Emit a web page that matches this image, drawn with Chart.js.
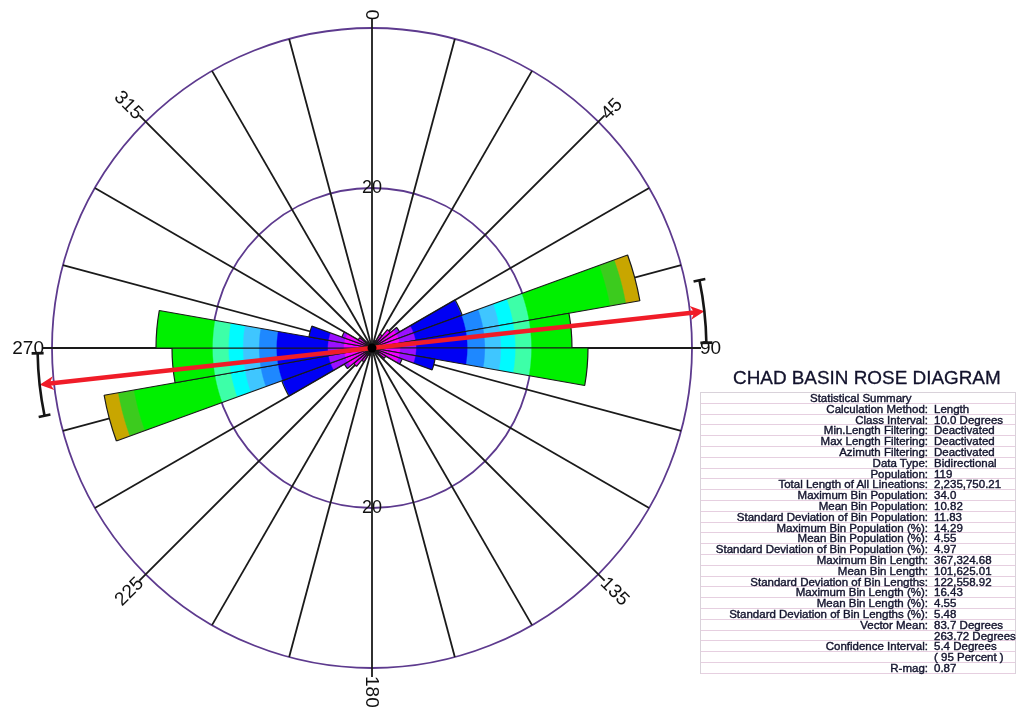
<!DOCTYPE html>
<html>
<head>
<meta charset="utf-8">
<title>Chad Basin Rose Diagram</title>
<script src="https://cdn.jsdelivr.net/npm/chart.js"></script>
<style>
  html, body { margin: 0; padding: 0; background: #ffffff; }
  body { width: 1018px; height: 710px; position: relative; overflow: hidden; font-family: "Liberation Sans", Arial, sans-serif; }
  #rose { position: absolute; left: 0; top: 0; }
  #title { position: absolute; left: 733px; top: 368px; font-size: 18.9px; line-height: 20px; color: #12122c; -webkit-text-stroke: 0.3px #12122c; white-space: nowrap; }
  #stats { position: absolute; left: 700px; top: 392px; width: 316px; box-sizing: border-box; border: 1px solid #d9d2da; border-bottom: none; }
  .row { position: relative; height: 10.8px; box-sizing: border-box; border-bottom: 1px solid #e6cfe0; font-size: 11.5px; line-height: 10.8px; color: #14142e; -webkit-text-stroke: 0.4px #14142e; white-space: nowrap; }
  .row .k { position: absolute; right: 87px; top: 0; text-align: right; }
  .row .v { position: absolute; left: 233px; top: 0; }
  .row .h { position: absolute; left: 109px; top: 0; width: 100px; text-align: center; }
</style>
</head>
<body>
<canvas id="rose" width="1018" height="710"></canvas>
<div id="title"></div>
<div id="stats"></div>
<script>
// 10-degree azimuth bins (bidirectional data, so each bin mirrors the one 180 degrees away)
const BIN_LABELS = ['0-10','10-20','20-30','30-40','40-50','50-60','60-70','70-80','80-90',
  '90-100','100-110','110-120','120-130','130-140','140-150','150-160','160-170','170-180',
  '180-190','190-200','200-210','210-220','220-230','230-240','240-250','250-260','260-270',
  '270-280','280-290','290-300','300-310','310-320','320-330','330-340','340-350','350-360'];
const BIN_COUNTS = [0, 0, 1, 2, 3, 4, 12, 34, 25, 27, 8, 4, 2, 1, 0, 0, 0, 0,
                    0, 0, 1, 2, 3, 4, 12, 34, 25, 27, 8, 4, 2, 1, 0, 0, 0, 0];

// radial rings and azimuth annotation
const RING_MAX = 40;
const RING_STEP = 20;
const RING_LABELS = ['20'];
const AXIS_ANGLES = [0, 45, 90, 135, 180, 225, 270, 315];
const AXIS_LABELS = ['0', '45', '90', '135', '180', '225', '270', '315'];
const SPOKE_STEP = 15;

// vector mean and its 95% confidence interval (degrees)
const VECTOR_MEAN = 83.7;
const CONFIDENCE = 5.4;

// colour ramp along the petals: [from value, colour]
const RAMP_BREAKS = [0, 3.6, 5.6, 12, 14.2, 16.2, 18, 20, 30.3, 32.3];
const RAMP_COLORS = ['#f200ff', '#9a10ff', '#0000f4', '#1e88ff', '#3fc6ff', '#00fbff', '#3dffa8', '#00f000', '#3ccb1e', '#c8a600'];

// statistical summary table
const STAT_HEADER = 'Statistical Summary';
const STAT_NAMES = ['Calculation Method:', 'Class Interval:', 'Min.Length Filtering:', 'Max Length Filtering:',
  'Azimuth Filtering:', 'Data Type:', 'Population:', 'Total Length of All Lineations:',
  'Maximum Bin Population:', 'Mean Bin Population:', 'Standard Deviation of Bin Population:',
  'Maximum Bin Population (%):', 'Mean Bin Population (%):', 'Standard Deviation of Bin Population (%):',
  'Maximum Bin Length:', 'Mean Bin Length:', 'Standard Deviation of Bin Lengths:',
  'Maximum Bin Length (%):', 'Mean Bin Length (%):', 'Standard Deviation of Bin Lengths (%):',
  'Vector Mean:', '', 'Confidence Interval:', '', 'R-mag:'];
const STAT_VALUES = ['Length', '10.0 Degrees', 'Deactivated', 'Deactivated', 'Deactivated', 'Bidirectional',
  '119', '2,235,750.21', '34.0', '10.82', '11.83', '14.29', '4.55', '4.97', '367,324.68', '101,625.01',
  '122,558.92', '16.43', '4.55', '5.48', '83.7 Degrees', '263.72 Degrees', '5.4 Degrees', '( 95 Percent )', '0.87'];
const TITLE = 'CHAD BASIN ROSE DIAGRAM';

// ---- summary panel ----
document.getElementById('title').textContent = TITLE;
const stats = document.getElementById('stats');
function addRow(html) { const d = document.createElement('div'); d.className = 'row'; d.innerHTML = html; stats.appendChild(d); return d; }
function esc(s) { return s.replace(/&/g, '&amp;').replace(/</g, '&lt;'); }
addRow('<span class="h">' + esc(STAT_HEADER) + '</span>');
STAT_NAMES.forEach((n, i) => addRow('<span class="k">' + esc(n) + '</span><span class="v">' + esc(STAT_VALUES[i]) + '</span>'));

// ---- rose diagram ----
const FONT = '"Liberation Sans", Arial, sans-serif';
function toCanvasAngle(deg) { return (deg - 90) * Math.PI / 180; }
function polar(cx, cy, r, deg) { const a = toCanvasAngle(deg); return [cx + r * Math.cos(a), cy + r * Math.sin(a)]; }

let gradCache = null;
function petalFill(context) {
  const chart = context.chart;
  const s = chart.scales.r;
  if (!s || !s.drawingArea) return RAMP_COLORS[0];
  const key = s.xCenter + ',' + s.yCenter + ',' + s.drawingArea;
  if (gradCache && gradCache.key === key) return gradCache.g;
  const R = s.getDistanceFromCenterForValue(RING_MAX);
  const g = chart.ctx.createRadialGradient(s.xCenter, s.yCenter, 0, s.xCenter, s.yCenter, R);
  RAMP_BREAKS.forEach((b, i) => {
    const from = b / RING_MAX;
    const to = (i + 1 < RAMP_BREAKS.length ? RAMP_BREAKS[i + 1] : RING_MAX) / RING_MAX;
    g.addColorStop(from, RAMP_COLORS[i]);
    g.addColorStop(Math.max(from, to - 0.004), RAMP_COLORS[i]);
  });
  gradCache = { key, g };
  return g;
}

const roseDecor = {
  id: 'roseDecor',
  beforeDatasetsDraw(chart) {
    const s = chart.scales.r, ctx = chart.ctx;
    const cx = s.xCenter, cy = s.yCenter, R = s.getDistanceFromCenterForValue(RING_MAX);
    ctx.save();
    ctx.strokeStyle = '#1a1a1a';
    ctx.lineWidth = 1.8;
    for (let a = 0; a < 360; a += SPOKE_STEP) {
      const len = AXIS_ANGLES.includes(a) ? R + 9 : R;
      const [x, y] = polar(cx, cy, len, a);
      ctx.beginPath(); ctx.moveTo(cx, cy); ctx.lineTo(x, y); ctx.stroke();
    }
    ctx.restore();
  },
  afterDatasetsDraw(chart) {
    const s = chart.scales.r, ctx = chart.ctx;
    const cx = s.xCenter, cy = s.yCenter, R = s.getDistanceFromCenterForValue(RING_MAX);
    ctx.save();

    // lower ring label
    ctx.fillStyle = '#111';
    ctx.font = '18px ' + FONT;
    ctx.textAlign = 'center';
    ctx.textBaseline = 'middle';
    RING_LABELS.forEach(t => ctx.fillText(t, cx, cy + s.getDistanceFromCenterForValue(Number(t))));

    // azimuth labels, written along their spokes
    ctx.font = '19px ' + FONT;
    AXIS_ANGLES.forEach((a, i) => {
      const [x, y] = polar(cx, cy, R + 8, a);
      const rightHalf = a > 0 && a <= 180;
      ctx.save();
      ctx.translate(x, y);
      ctx.rotate((rightHalf ? a - 90 : (a === 0 ? 360 : a) - 270) * Math.PI / 180);
      ctx.textAlign = rightHalf ? 'left' : 'right';
      ctx.textBaseline = 'middle';
      ctx.fillText(AXIS_LABELS[i], 0, 1);
      ctx.restore();
    });

    // vector mean, drawn through the centre in both directions
    const Ra = R * 1.045;
    const back = VECTOR_MEAN + 180;
    const [x1, y1] = polar(cx, cy, Ra - 8, back);
    const [x2, y2] = polar(cx, cy, Ra - 8, VECTOR_MEAN);
    ctx.strokeStyle = '#f01c28';
    ctx.fillStyle = '#f01c28';
    ctx.lineWidth = 4.5;
    ctx.lineCap = 'butt';
    ctx.beginPath(); ctx.moveTo(x1, y1); ctx.lineTo(x2, y2); ctx.stroke();
    [VECTOR_MEAN, back].forEach(a => {
      const [tx, ty] = polar(cx, cy, Ra, a);
      const ang = toCanvasAngle(a);
      const ux = Math.cos(ang), uy = Math.sin(ang);
      const bx = tx - ux * 14, by = ty - uy * 14;
      ctx.beginPath();
      ctx.moveTo(tx, ty);
      ctx.lineTo(bx - uy * 7, by + ux * 7);
      ctx.lineTo(tx - ux * 10, ty - uy * 10);
      ctx.lineTo(bx + uy * 7, by - ux * 7);
      ctx.closePath();
      ctx.fill();
    });

    // confidence interval arcs with end caps
    ctx.strokeStyle = '#151515';
    ctx.lineWidth = 2.6;
    [VECTOR_MEAN, back].forEach(a => {
      ctx.beginPath();
      ctx.arc(cx, cy, Ra, toCanvasAngle(a - CONFIDENCE), toCanvasAngle(a + CONFIDENCE));
      ctx.stroke();
      [a - CONFIDENCE, a + CONFIDENCE].forEach(e => {
        const [p1x, p1y] = polar(cx, cy, Ra - 6, e);
        const [p2x, p2y] = polar(cx, cy, Ra + 6, e);
        ctx.beginPath(); ctx.moveTo(p1x, p1y); ctx.lineTo(p2x, p2y); ctx.stroke();
      });
    });

    // hub
    ctx.fillStyle = '#000';
    ctx.beginPath(); ctx.arc(cx, cy, 4.5, 0, Math.PI * 2); ctx.fill();
    ctx.restore();
  }
};

new Chart(document.getElementById('rose'), {
  type: 'polarArea',
  data: {
    labels: BIN_LABELS,
    datasets: [{
      data: BIN_COUNTS,
      backgroundColor: petalFill,
      borderColor: '#1a1a1a',
      borderWidth: 1.2
    }]
  },
  options: {
    responsive: false,
    devicePixelRatio: 1,
    animation: false,
    layout: { padding: { left: 41, top: 17, right: 315, bottom: 31 } },
    plugins: { legend: { display: false }, tooltip: { enabled: false } },
    scales: {
      r: {
        min: 0,
        max: RING_MAX,
        startAngle: 0,
        angleLines: { display: false },
        pointLabels: { display: false },
        grid: { circular: true, color: '#5d3a8e', lineWidth: 1.8 },
        ticks: {
          stepSize: RING_STEP,
          showLabelBackdrop: false,
          backdropPadding: 2,
          color: '#111',
          font: { size: 18, family: FONT },
          callback: v => (RING_LABELS.includes(String(v)) ? String(v) : '')
        }
      }
    }
  },
  plugins: [roseDecor]
});
</script>
</body>
</html>
